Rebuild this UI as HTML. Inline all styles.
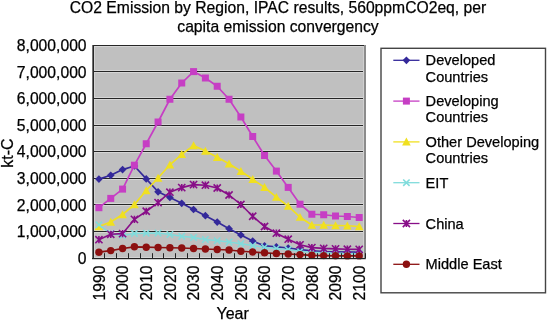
<!DOCTYPE html>
<html><head><meta charset="utf-8"><style>
html,body{margin:0;padding:0;background:#fff;width:548px;height:322px;overflow:hidden}
svg{display:block;will-change:transform}
.t{font-family:"Liberation Sans",sans-serif;font-size:15.7px;fill:#000;stroke:#000;stroke-width:0.25px}
.l{font-family:"Liberation Sans",sans-serif;font-size:14.6px;fill:#000;stroke:#000;stroke-width:0.25px}
</style></head><body>
<svg width="548" height="322" viewBox="0 0 548 322">
<rect x="93.0" y="45.3" width="272.1" height="212.7" fill="#c0c0c0"/>
<rect x="94" y="45" width="1" height="212" fill="#d4d4d4"/>
<rect x="93.0" y="257" width="272.10" height="1" fill="#d4d4d4"/>
<rect x="93.0" y="230" width="272.10" height="1" fill="#d6d6d6"/>
<rect x="93.0" y="232" width="272.10" height="1" fill="#d6d6d6"/>
<rect x="93.0" y="231" width="272.10" height="1" fill="#262626"/>
<rect x="93.0" y="203" width="272.10" height="1" fill="#d6d6d6"/>
<rect x="93.0" y="205" width="272.10" height="1" fill="#d6d6d6"/>
<rect x="93.0" y="204" width="272.10" height="1" fill="#262626"/>
<rect x="93.0" y="177" width="272.10" height="1" fill="#d6d6d6"/>
<rect x="93.0" y="179" width="272.10" height="1" fill="#d6d6d6"/>
<rect x="93.0" y="178" width="272.10" height="1" fill="#262626"/>
<rect x="93.0" y="150" width="272.10" height="1" fill="#d6d6d6"/>
<rect x="93.0" y="152" width="272.10" height="1" fill="#d6d6d6"/>
<rect x="93.0" y="151" width="272.10" height="1" fill="#262626"/>
<rect x="93.0" y="124" width="272.10" height="1" fill="#d6d6d6"/>
<rect x="93.0" y="126" width="272.10" height="1" fill="#d6d6d6"/>
<rect x="93.0" y="125" width="272.10" height="1" fill="#262626"/>
<rect x="93.0" y="97" width="272.10" height="1" fill="#d6d6d6"/>
<rect x="93.0" y="99" width="272.10" height="1" fill="#d6d6d6"/>
<rect x="93.0" y="98" width="272.10" height="1" fill="#262626"/>
<rect x="93.0" y="70" width="272.10" height="1" fill="#d6d6d6"/>
<rect x="93.0" y="72" width="272.10" height="1" fill="#d6d6d6"/>
<rect x="93.0" y="71" width="272.10" height="1" fill="#262626"/>
<rect x="93.0" y="46" width="272.10" height="1" fill="#d6d6d6"/>
<rect x="93.0" y="45" width="272.10" height="1" fill="#262626"/>
<rect x="363" y="46" width="1" height="211" fill="#d0d0d0"/>
<rect x="364" y="45" width="2" height="213" fill="#8c8c8c"/>
<polyline points="98.92,179.10 110.75,175.30 122.58,169.60 134.41,166.00 146.24,178.90 158.07,191.80 169.90,197.50 181.73,203.30 193.56,209.50 205.39,215.70 217.22,222.10 229.05,228.70 240.88,235.00 252.71,241.10 264.54,245.80 276.37,246.80 288.20,248.00 300.03,249.60 311.86,250.80 323.69,251.50 335.52,251.80 347.35,252.00 359.18,252.20" fill="none" stroke="#34299a" stroke-width="1.7" stroke-linejoin="round"/>
<path d="M98.92 175.25L102.77 179.10L98.92 182.95L95.07 179.10Z" fill="#34299a"/>
<path d="M110.75 171.45L114.60 175.30L110.75 179.15L106.90 175.30Z" fill="#34299a"/>
<path d="M122.58 165.75L126.43 169.60L122.58 173.45L118.73 169.60Z" fill="#34299a"/>
<path d="M134.41 162.15L138.26 166.00L134.41 169.85L130.56 166.00Z" fill="#34299a"/>
<path d="M146.24 175.05L150.09 178.90L146.24 182.75L142.39 178.90Z" fill="#34299a"/>
<path d="M158.07 187.95L161.92 191.80L158.07 195.65L154.22 191.80Z" fill="#34299a"/>
<path d="M169.90 193.65L173.75 197.50L169.90 201.35L166.05 197.50Z" fill="#34299a"/>
<path d="M181.73 199.45L185.58 203.30L181.73 207.15L177.88 203.30Z" fill="#34299a"/>
<path d="M193.56 205.65L197.41 209.50L193.56 213.35L189.71 209.50Z" fill="#34299a"/>
<path d="M205.39 211.85L209.24 215.70L205.39 219.55L201.54 215.70Z" fill="#34299a"/>
<path d="M217.22 218.25L221.07 222.10L217.22 225.95L213.37 222.10Z" fill="#34299a"/>
<path d="M229.05 224.85L232.90 228.70L229.05 232.55L225.20 228.70Z" fill="#34299a"/>
<path d="M240.88 231.15L244.73 235.00L240.88 238.85L237.03 235.00Z" fill="#34299a"/>
<path d="M252.71 237.25L256.56 241.10L252.71 244.95L248.86 241.10Z" fill="#34299a"/>
<path d="M264.54 241.95L268.39 245.80L264.54 249.65L260.69 245.80Z" fill="#34299a"/>
<path d="M276.37 242.95L280.22 246.80L276.37 250.65L272.52 246.80Z" fill="#34299a"/>
<path d="M288.20 244.15L292.05 248.00L288.20 251.85L284.35 248.00Z" fill="#34299a"/>
<path d="M300.03 245.75L303.88 249.60L300.03 253.45L296.18 249.60Z" fill="#34299a"/>
<path d="M311.86 246.95L315.71 250.80L311.86 254.65L308.01 250.80Z" fill="#34299a"/>
<path d="M323.69 247.65L327.54 251.50L323.69 255.35L319.84 251.50Z" fill="#34299a"/>
<path d="M335.52 247.95L339.37 251.80L335.52 255.65L331.67 251.80Z" fill="#34299a"/>
<path d="M347.35 248.15L351.20 252.00L347.35 255.85L343.50 252.00Z" fill="#34299a"/>
<path d="M359.18 248.35L363.03 252.20L359.18 256.05L355.33 252.20Z" fill="#34299a"/>
<polyline points="98.92,207.70 110.75,198.40 122.58,189.10 134.41,165.20 146.24,143.75 158.07,122.00 169.90,99.25 181.73,83.00 193.56,71.60 205.39,78.00 217.22,86.25 229.05,99.25 240.88,117.00 252.71,136.50 264.54,155.50 276.37,171.10 288.20,187.40 300.03,204.20 311.86,214.25 323.69,214.75 335.52,216.00 347.35,216.50 359.18,217.50" fill="none" stroke="#c63ec4" stroke-width="1.7" stroke-linejoin="round"/>
<rect x="95.42" y="204.20" width="7.00" height="7.00" fill="#c63ec4"/>
<rect x="107.25" y="194.90" width="7.00" height="7.00" fill="#c63ec4"/>
<rect x="119.08" y="185.60" width="7.00" height="7.00" fill="#c63ec4"/>
<rect x="130.91" y="161.70" width="7.00" height="7.00" fill="#c63ec4"/>
<rect x="142.74" y="140.25" width="7.00" height="7.00" fill="#c63ec4"/>
<rect x="154.57" y="118.50" width="7.00" height="7.00" fill="#c63ec4"/>
<rect x="166.40" y="95.75" width="7.00" height="7.00" fill="#c63ec4"/>
<rect x="178.23" y="79.50" width="7.00" height="7.00" fill="#c63ec4"/>
<rect x="190.06" y="68.10" width="7.00" height="7.00" fill="#c63ec4"/>
<rect x="201.89" y="74.50" width="7.00" height="7.00" fill="#c63ec4"/>
<rect x="213.72" y="82.75" width="7.00" height="7.00" fill="#c63ec4"/>
<rect x="225.55" y="95.75" width="7.00" height="7.00" fill="#c63ec4"/>
<rect x="237.38" y="113.50" width="7.00" height="7.00" fill="#c63ec4"/>
<rect x="249.21" y="133.00" width="7.00" height="7.00" fill="#c63ec4"/>
<rect x="261.04" y="152.00" width="7.00" height="7.00" fill="#c63ec4"/>
<rect x="272.87" y="167.60" width="7.00" height="7.00" fill="#c63ec4"/>
<rect x="284.70" y="183.90" width="7.00" height="7.00" fill="#c63ec4"/>
<rect x="296.53" y="200.70" width="7.00" height="7.00" fill="#c63ec4"/>
<rect x="308.36" y="210.75" width="7.00" height="7.00" fill="#c63ec4"/>
<rect x="320.19" y="211.25" width="7.00" height="7.00" fill="#c63ec4"/>
<rect x="332.02" y="212.50" width="7.00" height="7.00" fill="#c63ec4"/>
<rect x="343.85" y="213.00" width="7.00" height="7.00" fill="#c63ec4"/>
<rect x="355.68" y="214.00" width="7.00" height="7.00" fill="#c63ec4"/>
<polyline points="98.92,226.50 110.75,222.00 122.58,214.50 134.41,204.60 146.24,190.50 158.07,178.00 169.90,164.80 181.73,154.30 193.56,145.60 205.39,151.10 217.22,157.30 229.05,163.80 240.88,171.30 252.71,179.30 264.54,187.40 276.37,197.20 288.20,206.10 300.03,217.20 311.86,225.00 323.69,225.00 335.52,225.50 347.35,225.75 359.18,226.50" fill="none" stroke="#f0e020" stroke-width="1.7" stroke-linejoin="round"/>
<path d="M98.92 222.20L103.22 230.16L94.62 230.16Z" fill="#f0e020"/>
<path d="M110.75 217.70L115.05 225.66L106.45 225.66Z" fill="#f0e020"/>
<path d="M122.58 210.20L126.88 218.16L118.28 218.16Z" fill="#f0e020"/>
<path d="M134.41 200.30L138.71 208.25L130.11 208.25Z" fill="#f0e020"/>
<path d="M146.24 186.20L150.54 194.16L141.94 194.16Z" fill="#f0e020"/>
<path d="M158.07 173.70L162.37 181.66L153.77 181.66Z" fill="#f0e020"/>
<path d="M169.90 160.50L174.20 168.46L165.60 168.46Z" fill="#f0e020"/>
<path d="M181.73 150.00L186.03 157.96L177.43 157.96Z" fill="#f0e020"/>
<path d="M193.56 141.30L197.86 149.25L189.26 149.25Z" fill="#f0e020"/>
<path d="M205.39 146.80L209.69 154.75L201.09 154.75Z" fill="#f0e020"/>
<path d="M217.22 153.00L221.52 160.96L212.92 160.96Z" fill="#f0e020"/>
<path d="M229.05 159.50L233.35 167.46L224.75 167.46Z" fill="#f0e020"/>
<path d="M240.88 167.00L245.18 174.96L236.58 174.96Z" fill="#f0e020"/>
<path d="M252.71 175.00L257.01 182.96L248.41 182.96Z" fill="#f0e020"/>
<path d="M264.54 183.10L268.84 191.06L260.24 191.06Z" fill="#f0e020"/>
<path d="M276.37 192.90L280.67 200.85L272.07 200.85Z" fill="#f0e020"/>
<path d="M288.20 201.80L292.50 209.75L283.90 209.75Z" fill="#f0e020"/>
<path d="M300.03 212.90L304.33 220.85L295.73 220.85Z" fill="#f0e020"/>
<path d="M311.86 220.70L316.16 228.66L307.56 228.66Z" fill="#f0e020"/>
<path d="M323.69 220.70L327.99 228.66L319.39 228.66Z" fill="#f0e020"/>
<path d="M335.52 221.20L339.82 229.16L331.22 229.16Z" fill="#f0e020"/>
<path d="M347.35 221.45L351.65 229.41L343.05 229.41Z" fill="#f0e020"/>
<path d="M359.18 222.20L363.48 230.16L354.88 230.16Z" fill="#f0e020"/>
<polyline points="98.92,224.80 110.75,233.50 122.58,235.50 134.41,233.50 146.24,233.20 158.07,233.00 169.90,234.50 181.73,236.25 193.56,237.50 205.39,239.50 217.22,240.75 229.05,242.00 240.88,243.75 252.71,245.50 264.54,247.20 276.37,248.50 288.20,249.60 300.03,251.30 311.86,252.30 323.69,252.80 335.52,253.20 347.35,253.50 359.18,253.80" fill="none" stroke="#80dcdc" stroke-width="1.4" stroke-linejoin="round"/>
<path d="M95.72 221.60L102.12 228.00M102.12 221.60L95.72 228.00" stroke="#80dcdc" stroke-width="1.6" fill="none"/>
<path d="M107.55 230.30L113.95 236.70M113.95 230.30L107.55 236.70" stroke="#80dcdc" stroke-width="1.6" fill="none"/>
<path d="M119.38 232.30L125.78 238.70M125.78 232.30L119.38 238.70" stroke="#80dcdc" stroke-width="1.6" fill="none"/>
<path d="M131.21 230.30L137.61 236.70M137.61 230.30L131.21 236.70" stroke="#80dcdc" stroke-width="1.6" fill="none"/>
<path d="M143.04 230.00L149.44 236.40M149.44 230.00L143.04 236.40" stroke="#80dcdc" stroke-width="1.6" fill="none"/>
<path d="M154.87 229.80L161.27 236.20M161.27 229.80L154.87 236.20" stroke="#80dcdc" stroke-width="1.6" fill="none"/>
<path d="M166.70 231.30L173.10 237.70M173.10 231.30L166.70 237.70" stroke="#80dcdc" stroke-width="1.6" fill="none"/>
<path d="M178.53 233.05L184.93 239.45M184.93 233.05L178.53 239.45" stroke="#80dcdc" stroke-width="1.6" fill="none"/>
<path d="M190.36 234.30L196.76 240.70M196.76 234.30L190.36 240.70" stroke="#80dcdc" stroke-width="1.6" fill="none"/>
<path d="M202.19 236.30L208.59 242.70M208.59 236.30L202.19 242.70" stroke="#80dcdc" stroke-width="1.6" fill="none"/>
<path d="M214.02 237.55L220.42 243.95M220.42 237.55L214.02 243.95" stroke="#80dcdc" stroke-width="1.6" fill="none"/>
<path d="M225.85 238.80L232.25 245.20M232.25 238.80L225.85 245.20" stroke="#80dcdc" stroke-width="1.6" fill="none"/>
<path d="M237.68 240.55L244.08 246.95M244.08 240.55L237.68 246.95" stroke="#80dcdc" stroke-width="1.6" fill="none"/>
<path d="M249.51 242.30L255.91 248.70M255.91 242.30L249.51 248.70" stroke="#80dcdc" stroke-width="1.6" fill="none"/>
<path d="M261.34 244.00L267.74 250.40M267.74 244.00L261.34 250.40" stroke="#80dcdc" stroke-width="1.6" fill="none"/>
<path d="M273.17 245.30L279.57 251.70M279.57 245.30L273.17 251.70" stroke="#80dcdc" stroke-width="1.6" fill="none"/>
<path d="M285.00 246.40L291.40 252.80M291.40 246.40L285.00 252.80" stroke="#80dcdc" stroke-width="1.6" fill="none"/>
<path d="M296.83 248.10L303.23 254.50M303.23 248.10L296.83 254.50" stroke="#80dcdc" stroke-width="1.6" fill="none"/>
<path d="M308.66 249.10L315.06 255.50M315.06 249.10L308.66 255.50" stroke="#80dcdc" stroke-width="1.6" fill="none"/>
<path d="M320.49 249.60L326.89 256.00M326.89 249.60L320.49 256.00" stroke="#80dcdc" stroke-width="1.6" fill="none"/>
<path d="M332.32 250.00L338.72 256.40M338.72 250.00L332.32 256.40" stroke="#80dcdc" stroke-width="1.6" fill="none"/>
<path d="M344.15 250.30L350.55 256.70M350.55 250.30L344.15 256.70" stroke="#80dcdc" stroke-width="1.6" fill="none"/>
<path d="M355.98 250.60L362.38 257.00M362.38 250.60L355.98 257.00" stroke="#80dcdc" stroke-width="1.6" fill="none"/>
<polyline points="98.92,239.70 110.75,234.30 122.58,233.60 134.41,219.40 146.24,211.25 158.07,202.60 169.90,192.20 181.73,187.60 193.56,184.60 205.39,185.20 217.22,188.00 229.05,195.00 240.88,204.50 252.71,216.25 264.54,226.50 276.37,233.20 288.20,239.20 300.03,244.80 311.86,247.60 323.69,248.40 335.52,248.90 347.35,249.20 359.18,249.40" fill="none" stroke="#880e88" stroke-width="1.6" stroke-linejoin="round"/>
<path d="M95.32 236.10L102.52 243.30M102.52 236.10L95.32 243.30M98.92 236.10L98.92 243.30" stroke="#880e88" stroke-width="1.6" fill="none"/>
<path d="M107.15 230.70L114.35 237.90M114.35 230.70L107.15 237.90M110.75 230.70L110.75 237.90" stroke="#880e88" stroke-width="1.6" fill="none"/>
<path d="M118.98 230.00L126.18 237.20M126.18 230.00L118.98 237.20M122.58 230.00L122.58 237.20" stroke="#880e88" stroke-width="1.6" fill="none"/>
<path d="M130.81 215.80L138.01 223.00M138.01 215.80L130.81 223.00M134.41 215.80L134.41 223.00" stroke="#880e88" stroke-width="1.6" fill="none"/>
<path d="M142.64 207.65L149.84 214.85M149.84 207.65L142.64 214.85M146.24 207.65L146.24 214.85" stroke="#880e88" stroke-width="1.6" fill="none"/>
<path d="M154.47 199.00L161.67 206.20M161.67 199.00L154.47 206.20M158.07 199.00L158.07 206.20" stroke="#880e88" stroke-width="1.6" fill="none"/>
<path d="M166.30 188.60L173.50 195.80M173.50 188.60L166.30 195.80M169.90 188.60L169.90 195.80" stroke="#880e88" stroke-width="1.6" fill="none"/>
<path d="M178.13 184.00L185.33 191.20M185.33 184.00L178.13 191.20M181.73 184.00L181.73 191.20" stroke="#880e88" stroke-width="1.6" fill="none"/>
<path d="M189.96 181.00L197.16 188.20M197.16 181.00L189.96 188.20M193.56 181.00L193.56 188.20" stroke="#880e88" stroke-width="1.6" fill="none"/>
<path d="M201.79 181.60L208.99 188.80M208.99 181.60L201.79 188.80M205.39 181.60L205.39 188.80" stroke="#880e88" stroke-width="1.6" fill="none"/>
<path d="M213.62 184.40L220.82 191.60M220.82 184.40L213.62 191.60M217.22 184.40L217.22 191.60" stroke="#880e88" stroke-width="1.6" fill="none"/>
<path d="M225.45 191.40L232.65 198.60M232.65 191.40L225.45 198.60M229.05 191.40L229.05 198.60" stroke="#880e88" stroke-width="1.6" fill="none"/>
<path d="M237.28 200.90L244.48 208.10M244.48 200.90L237.28 208.10M240.88 200.90L240.88 208.10" stroke="#880e88" stroke-width="1.6" fill="none"/>
<path d="M249.11 212.65L256.31 219.85M256.31 212.65L249.11 219.85M252.71 212.65L252.71 219.85" stroke="#880e88" stroke-width="1.6" fill="none"/>
<path d="M260.94 222.90L268.14 230.10M268.14 222.90L260.94 230.10M264.54 222.90L264.54 230.10" stroke="#880e88" stroke-width="1.6" fill="none"/>
<path d="M272.77 229.60L279.97 236.80M279.97 229.60L272.77 236.80M276.37 229.60L276.37 236.80" stroke="#880e88" stroke-width="1.6" fill="none"/>
<path d="M284.60 235.60L291.80 242.80M291.80 235.60L284.60 242.80M288.20 235.60L288.20 242.80" stroke="#880e88" stroke-width="1.6" fill="none"/>
<path d="M296.43 241.20L303.63 248.40M303.63 241.20L296.43 248.40M300.03 241.20L300.03 248.40" stroke="#880e88" stroke-width="1.6" fill="none"/>
<path d="M308.26 244.00L315.46 251.20M315.46 244.00L308.26 251.20M311.86 244.00L311.86 251.20" stroke="#880e88" stroke-width="1.6" fill="none"/>
<path d="M320.09 244.80L327.29 252.00M327.29 244.80L320.09 252.00M323.69 244.80L323.69 252.00" stroke="#880e88" stroke-width="1.6" fill="none"/>
<path d="M331.92 245.30L339.12 252.50M339.12 245.30L331.92 252.50M335.52 245.30L335.52 252.50" stroke="#880e88" stroke-width="1.6" fill="none"/>
<path d="M343.75 245.60L350.95 252.80M350.95 245.60L343.75 252.80M347.35 245.60L347.35 252.80" stroke="#880e88" stroke-width="1.6" fill="none"/>
<path d="M355.58 245.80L362.78 253.00M362.78 245.80L355.58 253.00M359.18 245.80L359.18 253.00" stroke="#880e88" stroke-width="1.6" fill="none"/>
<polyline points="98.92,252.20 110.75,250.60 122.58,248.50 134.41,246.80 146.24,247.20 158.07,247.50 169.90,247.75 181.73,248.00 193.56,248.50 205.39,249.00 217.22,249.50 229.05,250.00 240.88,251.25 252.71,252.00 264.54,252.80 276.37,253.50 288.20,254.00 300.03,254.60 311.86,255.30 323.69,255.60 335.52,255.80 347.35,255.90 359.18,255.90" fill="none" stroke="#8c1010" stroke-width="1.7" stroke-linejoin="round"/>
<circle cx="98.92" cy="252.20" r="3.70" fill="#8c1010"/>
<circle cx="110.75" cy="250.60" r="3.70" fill="#8c1010"/>
<circle cx="122.58" cy="248.50" r="3.70" fill="#8c1010"/>
<circle cx="134.41" cy="246.80" r="3.70" fill="#8c1010"/>
<circle cx="146.24" cy="247.20" r="3.70" fill="#8c1010"/>
<circle cx="158.07" cy="247.50" r="3.70" fill="#8c1010"/>
<circle cx="169.90" cy="247.75" r="3.70" fill="#8c1010"/>
<circle cx="181.73" cy="248.00" r="3.70" fill="#8c1010"/>
<circle cx="193.56" cy="248.50" r="3.70" fill="#8c1010"/>
<circle cx="205.39" cy="249.00" r="3.70" fill="#8c1010"/>
<circle cx="217.22" cy="249.50" r="3.70" fill="#8c1010"/>
<circle cx="229.05" cy="250.00" r="3.70" fill="#8c1010"/>
<circle cx="240.88" cy="251.25" r="3.70" fill="#8c1010"/>
<circle cx="252.71" cy="252.00" r="3.70" fill="#8c1010"/>
<circle cx="264.54" cy="252.80" r="3.70" fill="#8c1010"/>
<circle cx="276.37" cy="253.50" r="3.70" fill="#8c1010"/>
<circle cx="288.20" cy="254.00" r="3.70" fill="#8c1010"/>
<circle cx="300.03" cy="254.60" r="3.70" fill="#8c1010"/>
<circle cx="311.86" cy="255.30" r="3.70" fill="#8c1010"/>
<circle cx="323.69" cy="255.60" r="3.70" fill="#8c1010"/>
<circle cx="335.52" cy="255.80" r="3.70" fill="#8c1010"/>
<circle cx="347.35" cy="255.90" r="3.70" fill="#8c1010"/>
<circle cx="359.18" cy="255.90" r="3.70" fill="#8c1010"/>
<rect x="92" y="45" width="1" height="214" fill="#707070"/>
<rect x="93" y="45" width="1" height="214" fill="#262626"/>
<rect x="92" y="258" width="273.80" height="1" fill="#222"/>
<rect x="92" y="259" width="273.80" height="0.4" fill="#888"/>
<rect x="104" y="253.2" width="1" height="4.8" fill="#222"/>
<rect x="116" y="253.2" width="1" height="4.8" fill="#222"/>
<rect x="128" y="253.2" width="1" height="4.8" fill="#222"/>
<rect x="140" y="253.2" width="1" height="4.8" fill="#222"/>
<rect x="152" y="253.2" width="1" height="4.8" fill="#222"/>
<rect x="163" y="253.2" width="1" height="4.8" fill="#222"/>
<rect x="175" y="253.2" width="1" height="4.8" fill="#222"/>
<rect x="187" y="253.2" width="1" height="4.8" fill="#222"/>
<rect x="199" y="253.2" width="1" height="4.8" fill="#222"/>
<rect x="211" y="253.2" width="1" height="4.8" fill="#222"/>
<rect x="223" y="253.2" width="1" height="4.8" fill="#222"/>
<rect x="234" y="253.2" width="1" height="4.8" fill="#222"/>
<rect x="246" y="253.2" width="1" height="4.8" fill="#222"/>
<rect x="258" y="253.2" width="1" height="4.8" fill="#222"/>
<rect x="270" y="253.2" width="1" height="4.8" fill="#222"/>
<rect x="282" y="253.2" width="1" height="4.8" fill="#222"/>
<rect x="294" y="253.2" width="1" height="4.8" fill="#222"/>
<rect x="305" y="253.2" width="1" height="4.8" fill="#222"/>
<rect x="317" y="253.2" width="1" height="4.8" fill="#222"/>
<rect x="329" y="253.2" width="1" height="4.8" fill="#222"/>
<rect x="341" y="253.2" width="1" height="4.8" fill="#222"/>
<rect x="353" y="253.2" width="1" height="4.8" fill="#222"/>
<rect x="365" y="253.2" width="1" height="4.8" fill="#222"/>
<text x="86.6" y="263.80" text-anchor="end" class="t">0</text>
<text x="86.6" y="237.21" text-anchor="end" class="t">1,000,000</text>
<text x="86.6" y="210.62" text-anchor="end" class="t">2,000,000</text>
<text x="86.6" y="184.04" text-anchor="end" class="t">3,000,000</text>
<text x="86.6" y="157.45" text-anchor="end" class="t">4,000,000</text>
<text x="86.6" y="130.86" text-anchor="end" class="t">5,000,000</text>
<text x="86.6" y="104.28" text-anchor="end" class="t">6,000,000</text>
<text x="86.6" y="77.69" text-anchor="end" class="t">7,000,000</text>
<text x="86.6" y="51.10" text-anchor="end" class="t">8,000,000</text>
<text transform="translate(104.72,265.5) rotate(-90)" text-anchor="end" class="t">1990</text>
<text transform="translate(128.38,265.5) rotate(-90)" text-anchor="end" class="t">2000</text>
<text transform="translate(152.04,265.5) rotate(-90)" text-anchor="end" class="t">2010</text>
<text transform="translate(175.70,265.5) rotate(-90)" text-anchor="end" class="t">2020</text>
<text transform="translate(199.36,265.5) rotate(-90)" text-anchor="end" class="t">2030</text>
<text transform="translate(223.02,265.5) rotate(-90)" text-anchor="end" class="t">2040</text>
<text transform="translate(246.68,265.5) rotate(-90)" text-anchor="end" class="t">2050</text>
<text transform="translate(270.34,265.5) rotate(-90)" text-anchor="end" class="t">2060</text>
<text transform="translate(294.00,265.5) rotate(-90)" text-anchor="end" class="t">2070</text>
<text transform="translate(317.66,265.5) rotate(-90)" text-anchor="end" class="t">2080</text>
<text transform="translate(341.32,265.5) rotate(-90)" text-anchor="end" class="t">2090</text>
<text transform="translate(364.98,265.5) rotate(-90)" text-anchor="end" class="t">2100</text>
<text x="232.6" y="319" text-anchor="middle" class="t" style="font-size:16px">Year</text>
<text transform="translate(13,153) rotate(-90)" text-anchor="middle" class="t" style="font-size:16px">kt-C</text>
<text x="278" y="13" text-anchor="middle" class="t">CO2 Emission by Region, IPAC results, 560ppmCO2eq, per</text>
<text x="278" y="31.5" text-anchor="middle" class="t">capita emission convergency</text>
<rect x="381.0" y="48.3" width="164.5" height="244.5" fill="#fff" stroke="#444" stroke-width="1.4"/>
<line x1="393.3" y1="60.30" x2="419.5" y2="60.30" stroke="#34299a" stroke-width="1.3"/>
<path d="M406.40 56.45L410.25 60.30L406.40 64.15L402.55 60.30Z" fill="#34299a"/>
<text x="425.6" y="65.30" class="l">Developed</text>
<text x="425.6" y="81.60" class="l">Countries</text>
<line x1="393.3" y1="101.10" x2="419.5" y2="101.10" stroke="#c63ec4" stroke-width="1.3"/>
<rect x="402.90" y="97.60" width="7.00" height="7.00" fill="#c63ec4"/>
<text x="425.6" y="106.10" class="l">Developing</text>
<text x="425.6" y="122.40" class="l">Countries</text>
<line x1="393.3" y1="141.90" x2="419.5" y2="141.90" stroke="#f0e020" stroke-width="1.3"/>
<path d="M406.40 137.60L410.70 145.55L402.10 145.55Z" fill="#f0e020"/>
<text x="425.6" y="146.90" class="l">Other Developing</text>
<text x="425.6" y="163.20" class="l">Countries</text>
<line x1="393.3" y1="182.70" x2="419.5" y2="182.70" stroke="#80dcdc" stroke-width="1.3"/>
<path d="M403.20 179.50L409.60 185.90M409.60 179.50L403.20 185.90" stroke="#80dcdc" stroke-width="1.6" fill="none"/>
<text x="425.6" y="187.70" class="l">EIT</text>
<line x1="393.3" y1="223.50" x2="419.5" y2="223.50" stroke="#880e88" stroke-width="1.3"/>
<path d="M402.80 219.90L410.00 227.10M410.00 219.90L402.80 227.10M406.40 219.90L406.40 227.10" stroke="#880e88" stroke-width="1.6" fill="none"/>
<text x="425.6" y="228.50" class="l">China</text>
<line x1="393.3" y1="264.30" x2="419.5" y2="264.30" stroke="#8c1010" stroke-width="1.3"/>
<circle cx="406.40" cy="264.30" r="3.70" fill="#8c1010"/>
<text x="425.6" y="269.30" class="l">Middle East</text>
</svg>
</body></html>
